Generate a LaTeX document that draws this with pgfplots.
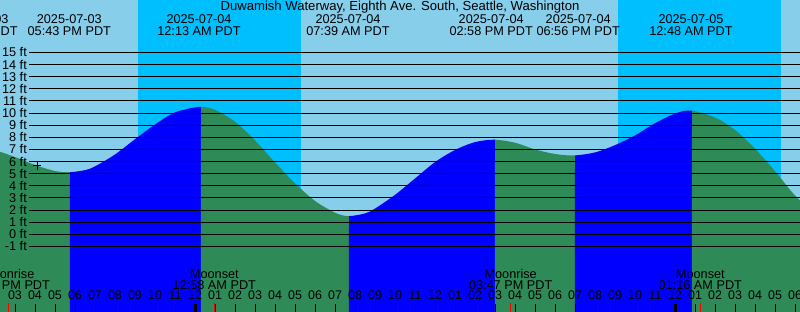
\documentclass[border=0pt]{standalone}
\usepackage{pgfplots}
\pgfplotsset{compat=1.18}
\usepgfplotslibrary{fillbetween}
\usepackage{fontspec}
\setmainfont{Liberation Sans}
\definecolor{daysky}{RGB}{135,206,235}
\definecolor{nightsky}{RGB}{0,191,255}
\definecolor{risefill}{RGB}{0,0,255}
\definecolor{fallfill}{RGB}{46,139,87}
\begin{document}
\begin{tikzpicture}
\begin{axis}[
  at={(0,0)}, anchor=south west,
  scale only axis, width=800pt, height=312pt,
  xmin=-9.75, xmax=30.25, ymin=-6.405, ymax=19.316,
  axis line style={draw=none},
  ytick=\empty,
  xtick pos=left,
  axis on top=true,
  axis background/.style={fill=daysky},
  xtick={-10,...,30},
  xticklabels={02,03,04,05,06,07,08,09,10,11,12,01,02,03,04,05,06,07,08,09,10,11,12,01,02,03,04,05,06,07,08,09,10,11,12,01,02,03,04,05,06},
  major tick length=8pt, tick align=inside,
  tick style={black, line width=0.8pt},
  xticklabel style={anchor=base, yshift=12pt, inner sep=0pt, font=\fontsize{12.5}{14}\selectfont},
  extra x ticks={0,24}, extra x tick labels={},
  extra x tick style={tick style={black, line width=3pt}},
  font=\fontsize{12.7}{14}\selectfont,
]
% helper boundaries
\addplot[draw=none, name path=top] coordinates {(-11,20) (31,20)};
\addplot[draw=none, name path=bot] coordinates {(-11,-7) (31,-7)};
% night bands
\addplot[nightsky] fill between[of=top and bot, soft clip={domain=-2.865:5.3}];
\addplot[nightsky] fill between[of=top and bot, soft clip={domain=21.165:29.3}];
% tide curve (hours from 2025-07-04 00:00, feet)
\addplot[draw=none, smooth, name path=tide] coordinates {
(-10.9,7.1) (-10,6.92) (-9,6.37) (-8,5.71) (-7,5.22) (-6.283,5.12)
(-5.5,5.29) (-5,5.60) (-4,6.58) (-3,7.84) (-2,9.05) (-1,10.05) (0.217,10.5)
(1,10.26) (2,9.28) (3,7.74) (4,5.92) (5,4.2) (6,2.75) (7,1.78) (7.65,1.5)
(8.5,1.72) (9,2.12) (10,3.25) (11,4.6) (12,5.95) (13,6.95) (14,7.6) (14.967,7.8)
(16,7.55) (17,7.0) (18,6.62) (18.933,6.5)
(20,6.75) (21,7.35) (22,8.15) (23,9.15) (24,9.95) (24.8,10.2)
(26,9.63) (27,8.6) (28,7.05) (29,5.2) (30,3.2) (31,1.7)};
\addplot[fallfill] fill between[of=tide and bot, soft clip={domain=-11:-6.25}];
\addplot[risefill] fill between[of=tide and bot, soft clip={domain=-6.25:0.3}];
\addplot[fallfill] fill between[of=tide and bot, soft clip={domain=0.3:7.7}];
\addplot[risefill] fill between[of=tide and bot, soft clip={domain=7.7:15.0}];
\addplot[fallfill] fill between[of=tide and bot, soft clip={domain=15.0:19.0}];
\addplot[risefill] fill between[of=tide and bot, soft clip={domain=19.0:24.85}];
\addplot[fallfill] fill between[of=tide and bot, soft clip={domain=24.85:31}];
% foot lines
\pgfplotsinvokeforeach{-1,...,15}{
  \addplot[black, line width=0.9pt] coordinates {(-8.285,#1) (31,#1)};
  \node[anchor=east, inner sep=0pt] at (axis cs:-8.4,#1) {#1 ft};
}
% current-time marker
\addplot[only marks, mark=+, mark size=4pt, black, line width=0.8pt] coordinates {(-7.885,5.66)};
% moon event ticks
\pgfplotsinvokeforeach{-9.335,0.967,15.783,25.267}{
  \addplot[red, line width=1.2pt] coordinates {(#1,-6.5) (#1,-5.665)};
}
% title
\node[anchor=base, font=\fontsize{13.1}{15}\selectfont] at (axis cs:10.25,18.41) {Duwamish Waterway, Eighth Ave. South, Seattle, Washington};
% tide events
\node[anchor=base] at (axis cs:-10.95,17.34) {2025-07-03};
\node[anchor=base] at (axis cs:-10.95,16.35) {01:05 PM PDT};
\node[anchor=base] at (axis cs:-6.285,17.34) {2025-07-03};
\node[anchor=base] at (axis cs:-6.285,16.35) {05:43 PM PDT};
\node[anchor=base] at (axis cs:0.2,17.34) {2025-07-04};
\node[anchor=base] at (axis cs:0.2,16.35) {12:13 AM PDT};
\node[anchor=base] at (axis cs:7.65,17.34) {2025-07-04};
\node[anchor=base] at (axis cs:7.65,16.35) {07:39 AM PDT};
\node[anchor=base] at (axis cs:14.81,17.34) {2025-07-04};
\node[anchor=base] at (axis cs:14.81,16.35) {02:58 PM PDT};
\node[anchor=base] at (axis cs:19.16,17.34) {2025-07-04};
\node[anchor=base] at (axis cs:19.16,16.35) {06:56 PM PDT};
\node[anchor=base] at (axis cs:24.8,17.34) {2025-07-05};
\node[anchor=base] at (axis cs:24.8,16.35) {12:48 AM PDT};
% moon events
\node[anchor=base] at (axis cs:-9.335,-3.63) {Moonrise};
\node[anchor=base] at (axis cs:-9.335,-4.59) {02:40 PM PDT};
\node[anchor=base] at (axis cs:0.967,-3.63) {Moonset};
\node[anchor=base] at (axis cs:0.967,-4.59) {12:58 AM PDT};
\node[anchor=base] at (axis cs:15.783,-3.63) {Moonrise};
\node[anchor=base] at (axis cs:15.783,-4.59) {03:47 PM PDT};
\node[anchor=base] at (axis cs:25.267,-3.63) {Moonset};
\node[anchor=base] at (axis cs:25.267,-4.59) {01:16 AM PDT};
\end{axis}
\pgfresetboundingbox
\useasboundingbox (0,0) rectangle (800pt,312pt);
\end{tikzpicture}
\end{document}
